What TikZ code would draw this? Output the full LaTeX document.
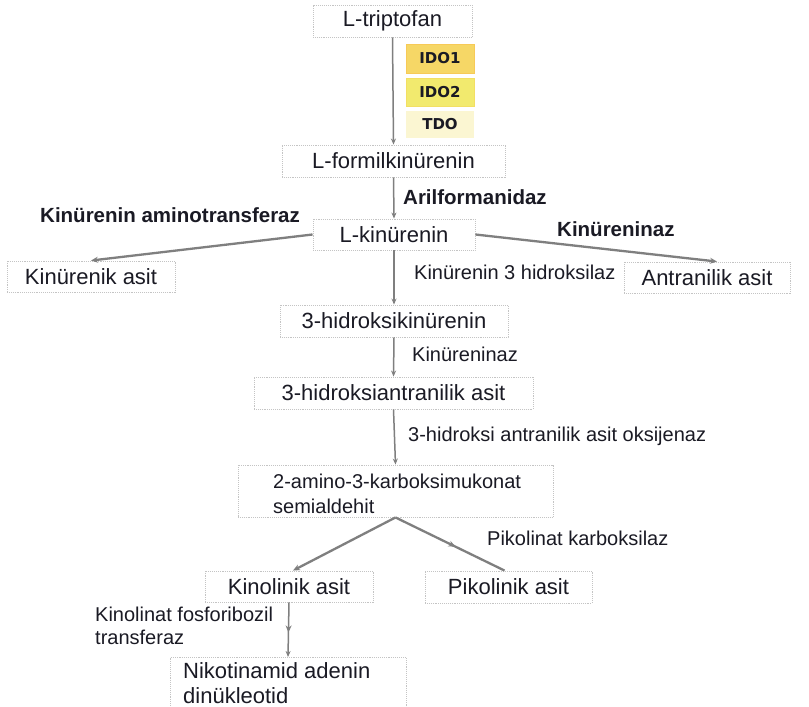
\documentclass[tikz,border=0pt]{standalone}
\usepackage{fontspec}
\setmainfont{Liberation Sans}
\newfontfamily\vfont{DejaVu Sans}
\usetikzlibrary{arrows.meta,decorations.markings}
\definecolor{boxline}{HTML}{C4C4C4}
\definecolor{arrowc}{HTML}{7F7F7F}
\definecolor{idoA}{HTML}{F6D766}
\definecolor{idoB}{HTML}{F2EA6E}
\definecolor{idoC}{HTML}{FBF6D2}
\definecolor{txt}{HTML}{1A1A24}
\tikzset{
  box/.style={draw=boxline, densely dotted, line width=0.9pt, fill=white, inner sep=0pt, text=txt,
    font=\fontsize{22}{26}\selectfont},
  btxt/.style={inner sep=0pt, text=txt, anchor=west, align=left, font=\fontsize{22}{25}\selectfont},
  enz/.style={inner sep=0pt, text=txt, anchor=west, font=\fontsize{20}{24}\selectfont},
  benz/.style={inner sep=0pt, text=txt, anchor=west, font=\fontsize{20.5}{24}\selectfont\bfseries},
  ido/.style={inner sep=0pt, minimum width=68pt, text=txt, font=\vfont\bfseries\fontsize{15}{17}\selectfont},
  arr/.style={draw=arrowc, line width=1.5pt, -{Stealth[length=6pt,width=5pt]}},
  darr/.style={draw=arrowc, line width=2.3pt, -{Stealth[length=7pt,width=6pt]}},
  midarr/.style={postaction={decorate}, decoration={markings, mark=at position 0.55 with {\arrow{Stealth[length=7pt,width=6pt]}}}}
}
\begin{document}
\begin{tikzpicture}[x=1pt,y=-1pt]
\useasboundingbox (0,0) rectangle (809,707);
\clip (0,0) rectangle (809,707);
\fill[white] (0,0) rectangle (809,707);

\node[box, minimum width=159pt, minimum height=32pt] (trp) at (392.5,21) {L-triptofan};
\node[ido, fill=idoA, draw=idoA!85!orange, minimum height=29pt] (ido1) at (440,58.5) {IDO1};
\node[ido, fill=idoB, draw=idoB!90!orange, minimum height=28pt] (ido2) at (440,92) {IDO2};
\node[ido, fill=idoC, minimum height=27pt] (tdo) at (440,124.5) {TDO};
\node[box, minimum width=223pt, minimum height=32pt] (form) at (393.5,161) {L-formilkinürenin};
\node[box, minimum width=162pt, minimum height=31pt] (kyn) at (394,234.5) {L-kinürenin};
\node[box, minimum width=168pt, minimum height=31pt] (kyna) at (91,276.5) {Kinürenik asit};
\node[box, minimum width=166pt, minimum height=31pt] (anth) at (707,277.5) {Antranilik asit};
\node[box, minimum width=228pt, minimum height=32pt] (hk) at (394,321) {3-hidroksikinürenin};
\node[box, minimum width=279pt, minimum height=32pt] (haa) at (393.5,393) {3-hidroksiantranilik asit};
\node[box, minimum width=315pt, minimum height=52pt] (acms) at (395.5,491) {};
\node[btxt, font=\fontsize{20}{25}\selectfont] (acmst) at (273,494) {2-amino-3-karboksimukonat\\semialdehit};
\node[box, minimum width=168pt, minimum height=31pt] (quin) at (289,586.5) {Kinolinik asit};
\node[box, minimum width=167pt, minimum height=32pt] (pic) at (508.5,587) {Pikolinik asit};
\node[box, minimum width=236pt, minimum height=58pt, anchor=north] (nad) at (288,657) {};
\node[btxt] (nadt) at (183,683) {Nikotinamid adenin\\dinükleotid};

\node[benz] (l1) at (403,197) {Arilformanidaz};
\node[benz] (l2) at (40,215) {Kinürenin aminotransferaz};
\node[benz] (l3) at (557,229) {Kinüreninaz};
\node[enz] (l4) at (414,272) {Kinürenin 3 hidroksilaz};
\node[enz] (l5) at (412,354) {Kinüreninaz};
\node[enz] (l6) at (408,436) {3-hidroksi antranilik asit oksijenaz};
\node[enz] (l7) at (487,538) {Pikolinat karboksilaz};
\node[enz, align=left, font=\fontsize{20}{23}\selectfont] (l8) at (95,626) {Kinolinat fosforibozil\\transferaz};

\draw[arr] (trp.south) -- (form.north);
\draw[arr] (form.south) -- (kyn.north);
\draw[darr] (kyn.west) -- (kyna.north);
\draw[darr] (kyn.east) -- ([xshift=10pt]anth.north);
\draw[arr] (kyn.south) -- (hk.north);
\draw[arr] (hk.south) -- (haa.north);
\draw[arr] (haa.south) -- (acms.north);
\draw[darr] (acms.south) -- ([xshift=4pt]quin.north);
\draw[draw=arrowc, line width=2.3pt, midarr] (acms.south) -- ([xshift=-4pt]pic.north);
\draw[arr, midarr] (quin.south) -- (nad.north);
\end{tikzpicture}
\end{document}
